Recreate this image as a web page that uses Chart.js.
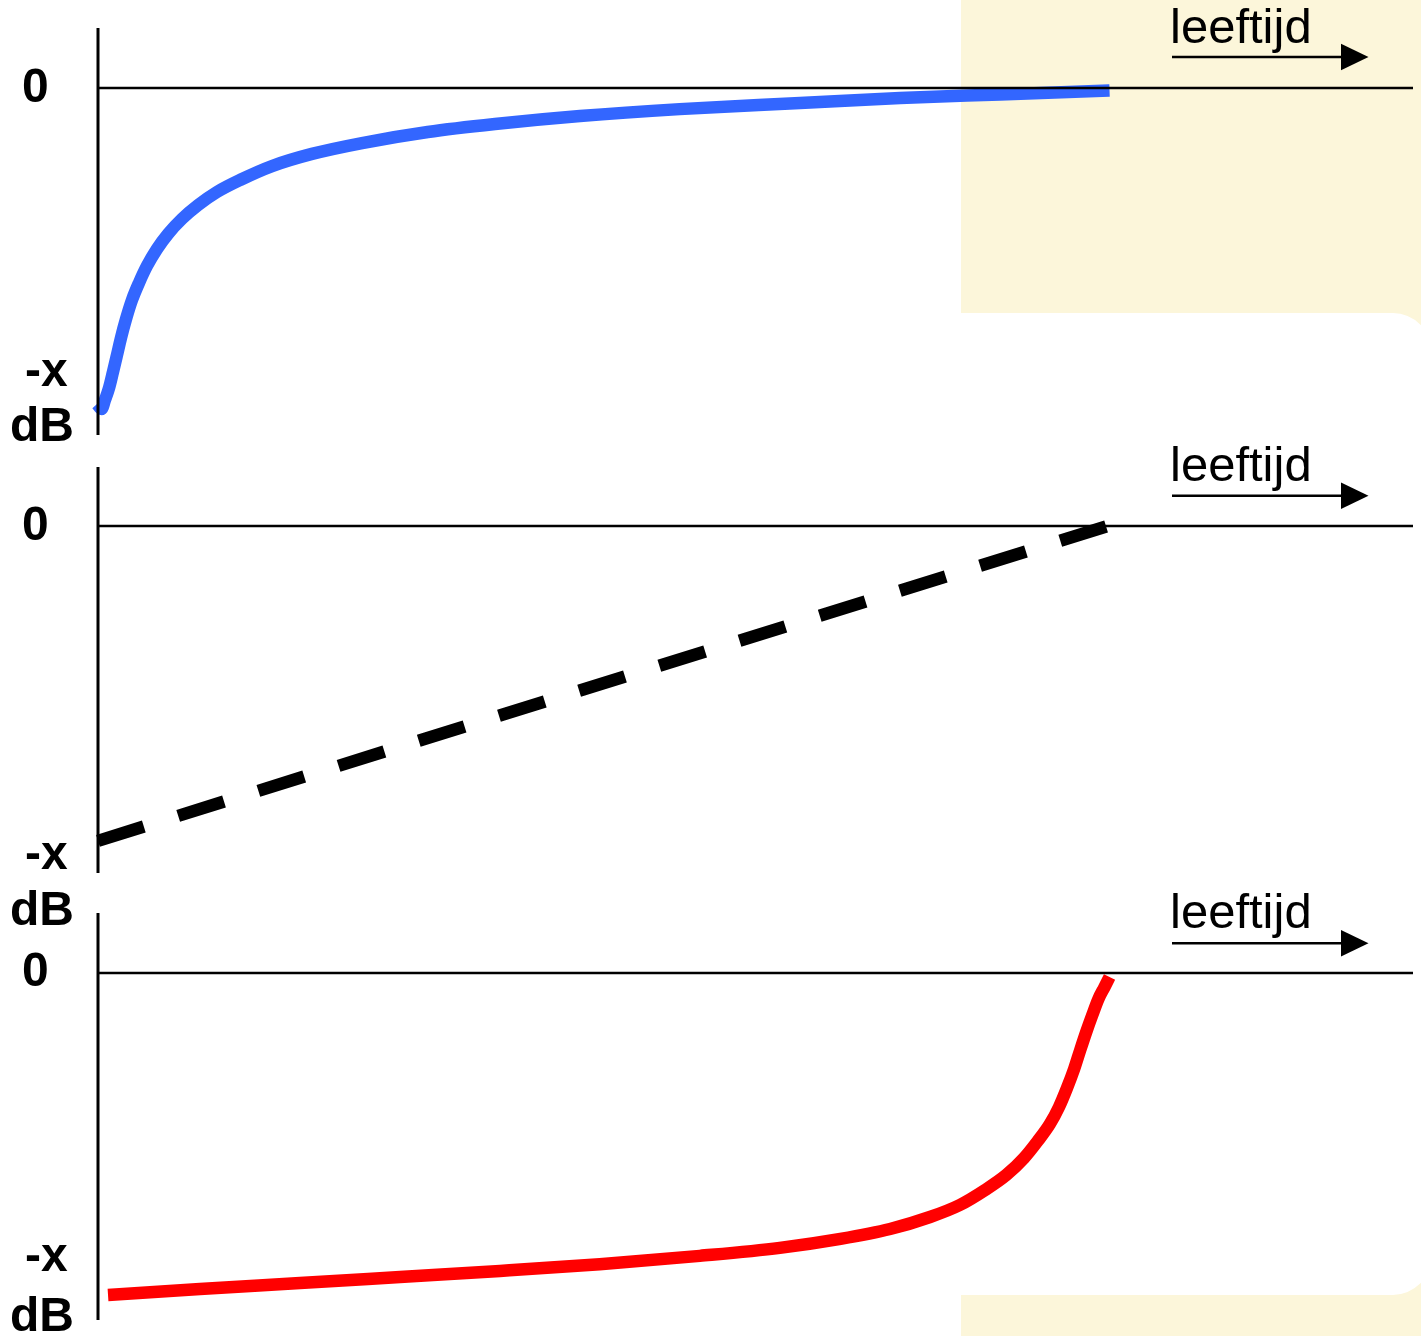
<!DOCTYPE html>
<html>
<head>
<meta charset="utf-8">
<script src="https://cdn.jsdelivr.net/npm/chart.js@4/dist/chart.umd.min.js"></script>
<style>
  html, body { margin: 0; padding: 0; background: #ffffff; }
  body { width: 1421px; height: 1336px; position: relative; overflow: hidden; }
  .bg-beige { position: absolute; left: 961px; top: 0; width: 460px; height: 1336px; background: #FCF6DA; }
  .bg-white { position: absolute; left: -100px; top: 313px; width: 1531px; height: 982px; background: #ffffff; border-radius: 38px; }
  canvas { position: absolute; left: 0; }
  .lbl { position: absolute; font-family: "Liberation Sans", Arial, sans-serif; font-weight: bold; font-size: 48px; line-height: 48px; color: #000; white-space: nowrap; }
  .ttl { position: absolute; font-family: "Liberation Sans", Arial, sans-serif; font-size: 49px; line-height: 49px; color: #000; white-space: nowrap; }
  svg { position: absolute; left: 0; top: 0; }
</style>
</head>
<body>
<div class="bg-beige"></div>
<div class="bg-white"></div>

<canvas id="c1"></canvas>
<canvas id="c2"></canvas>
<canvas id="c3"></canvas>

<script>
// ---------- data ----------
const tickLabels = ['0', '-x', 'dB'];
const axisTitle = 'leeftijd';

// panel 1 : blue curve (age, dB)
const blueAge = [-0.1, 0.35, 0.69, 1.09, 1.48, 1.88, 2.27, 2.77, 3.36, 4.05, 4.84, 5.83, 6.92, 8.30, 9.89, 11.76, 14.04, 17.2, 21.15, 26.1, 32.6, 39.25, 47.65, 57.5, 69.4, 79.3, 89.2, 100];
const blueDb  = [-98.75, -100.3, -97.5, -93.75, -88.75, -83.4, -78.1, -72.2, -66.25, -60.9, -55.6, -50.3, -45.6, -40.9, -36.6, -32.5, -28.75, -24.4, -20.6, -17.2, -13.75, -11.25, -8.75, -6.6, -4.7, -3.1, -2.0, -0.8];

// panel 2 : dashed straight line
const lineAge = [0, 99.8];
const lineDb  = [-98.4, 0];

// panel 3 : red curve
const redAge = [0.99, 10.08, 19.97, 29.86, 39.74, 49.6, 59.5, 67.4, 73.4, 78.3, 82.25, 85.2, 87.7, 89.8, 91.55, 92.9, 94.1, 95.0, 95.8, 96.5, 97.1, 97.7, 98.3, 98.9, 99.5, 100];
const redDb  = [-100.6, -98.75, -96.9, -95.0, -93.1, -91.0, -88.4, -85.9, -83.1, -80.0, -76.25, -72.5, -67.8, -63.1, -57.8, -52.5, -47.2, -41.9, -35.9, -30.0, -24.1, -18.4, -13.1, -8.1, -4.4, -1.25];

// ---------- layout ----------
const PX_PER_DB = 3.2;
const AXIS_LEFT = 98, AXIS_RIGHT = 1413;
const panels = [
  { id: 'c1', top: 0,   height: 445, axisTop: 28,  axisBottom: 435,  zero: 88,
    age: blueAge, db: blueDb, color: '#3366FF', dash: [],
    lab0: 102.5, labX: 386.7, labDB: 442, title: 43.3, arrow: 57 },
  { id: 'c2', top: 450, height: 440, axisTop: 467, axisBottom: 873, zero: 526,
    age: lineAge, db: lineDb, color: '#000000', dash: [48, 36],
    lab0: 541, labX: 870, labDB: 926, title: 481.7, arrow: 495.7 },
  { id: 'c3', top: 900, height: 436, axisTop: 913, axisBottom: 1320, zero: 973,
    age: redAge, db: redDb, color: '#FF0000', dash: [],
    lab0: 987, labX: 1271.7, labDB: 1331.5, title: 928.3, arrow: 943.3 }
];

const axesPlugin = {
  id: 'axesPlugin',
  afterDatasetsDraw(chart) {
    const { ctx, chartArea, scales } = chart;
    ctx.save();
    ctx.strokeStyle = '#000';
    ctx.lineCap = 'butt';
    const y0 = scales.y.getPixelForValue(0);
    ctx.lineWidth = 2.5;
    ctx.beginPath();
    ctx.moveTo(chartArea.left, y0);
    ctx.lineTo(chartArea.right, y0);
    ctx.stroke();
    ctx.lineWidth = 3;
    ctx.beginPath();
    ctx.moveTo(chartArea.left, chartArea.top);
    ctx.lineTo(chartArea.left, chartArea.bottom);
    ctx.stroke();
    ctx.restore();
  }
};

const svgNS = 'http://www.w3.org/2000/svg';
const svg = document.createElementNS(svgNS, 'svg');
svg.setAttribute('width', 1421);
svg.setAttribute('height', 1336);
document.body.appendChild(svg);

function addLabel(cls, text, left, baseline, fontSize) {
  const d = document.createElement('div');
  d.className = cls;
  d.textContent = text;
  d.style.left = left + 'px';
  d.style.top = (baseline - 0.8465 * fontSize) + 'px';
  document.body.appendChild(d);
}

panels.forEach(p => {
  const cv = document.getElementById(p.id);
  cv.width = 1421; cv.height = p.height;
  cv.style.width = '1421px'; cv.style.height = p.height + 'px';
  cv.style.top = p.top + 'px';

  const areaTop = p.axisTop - p.top;
  const areaBottom = p.axisBottom - p.top;
  const yMax = (p.zero - p.axisTop) / PX_PER_DB;
  const yMin = -(p.axisBottom - p.zero) / PX_PER_DB;

  new Chart(cv, {
    type: 'line',
    data: {
      datasets: [{
        data: p.age.map((a, i) => ({ x: a, y: p.db[i] })),
        borderColor: p.color,
        borderWidth: 12.5,
        borderDash: p.dash,
        borderCapStyle: 'butt',
        borderJoinStyle: 'round',
        pointRadius: 0,
        fill: false,
        cubicInterpolationMode: p.dash.length ? 'default' : 'monotone',
        tension: 0,
        clip: false
      }]
    },
    options: {
      responsive: false,
      devicePixelRatio: 1,
      animation: false,
      layout: { padding: { left: AXIS_LEFT, right: 1421 - AXIS_RIGHT, top: areaTop, bottom: p.height - areaBottom } },
      scales: {
        x: { type: 'linear', min: 0, max: 130, display: false },
        y: { type: 'linear', min: yMin, max: yMax, display: false }
      },
      plugins: { legend: { display: false }, tooltip: { enabled: false } }
    },
    plugins: [axesPlugin]
  });

  addLabel('lbl', tickLabels[0], 22, p.lab0, 48);
  addLabel('lbl', tickLabels[1], 25, p.labX, 48);
  addLabel('lbl', tickLabels[2], 10, p.labDB, 48);
  addLabel('ttl', axisTitle, 1170, p.title, 49);

  const ln = document.createElementNS(svgNS, 'line');
  ln.setAttribute('x1', 1172); ln.setAttribute('x2', 1345);
  ln.setAttribute('y1', p.arrow); ln.setAttribute('y2', p.arrow);
  ln.setAttribute('stroke', '#000'); ln.setAttribute('stroke-width', 2.5);
  svg.appendChild(ln);
  const hd = document.createElementNS(svgNS, 'polygon');
  hd.setAttribute('points', `1341,${p.arrow - 13.3} 1368.5,${p.arrow} 1341,${p.arrow + 13.3}`);
  hd.setAttribute('fill', '#000');
  svg.appendChild(hd);
});
</script>
</body>
</html>
